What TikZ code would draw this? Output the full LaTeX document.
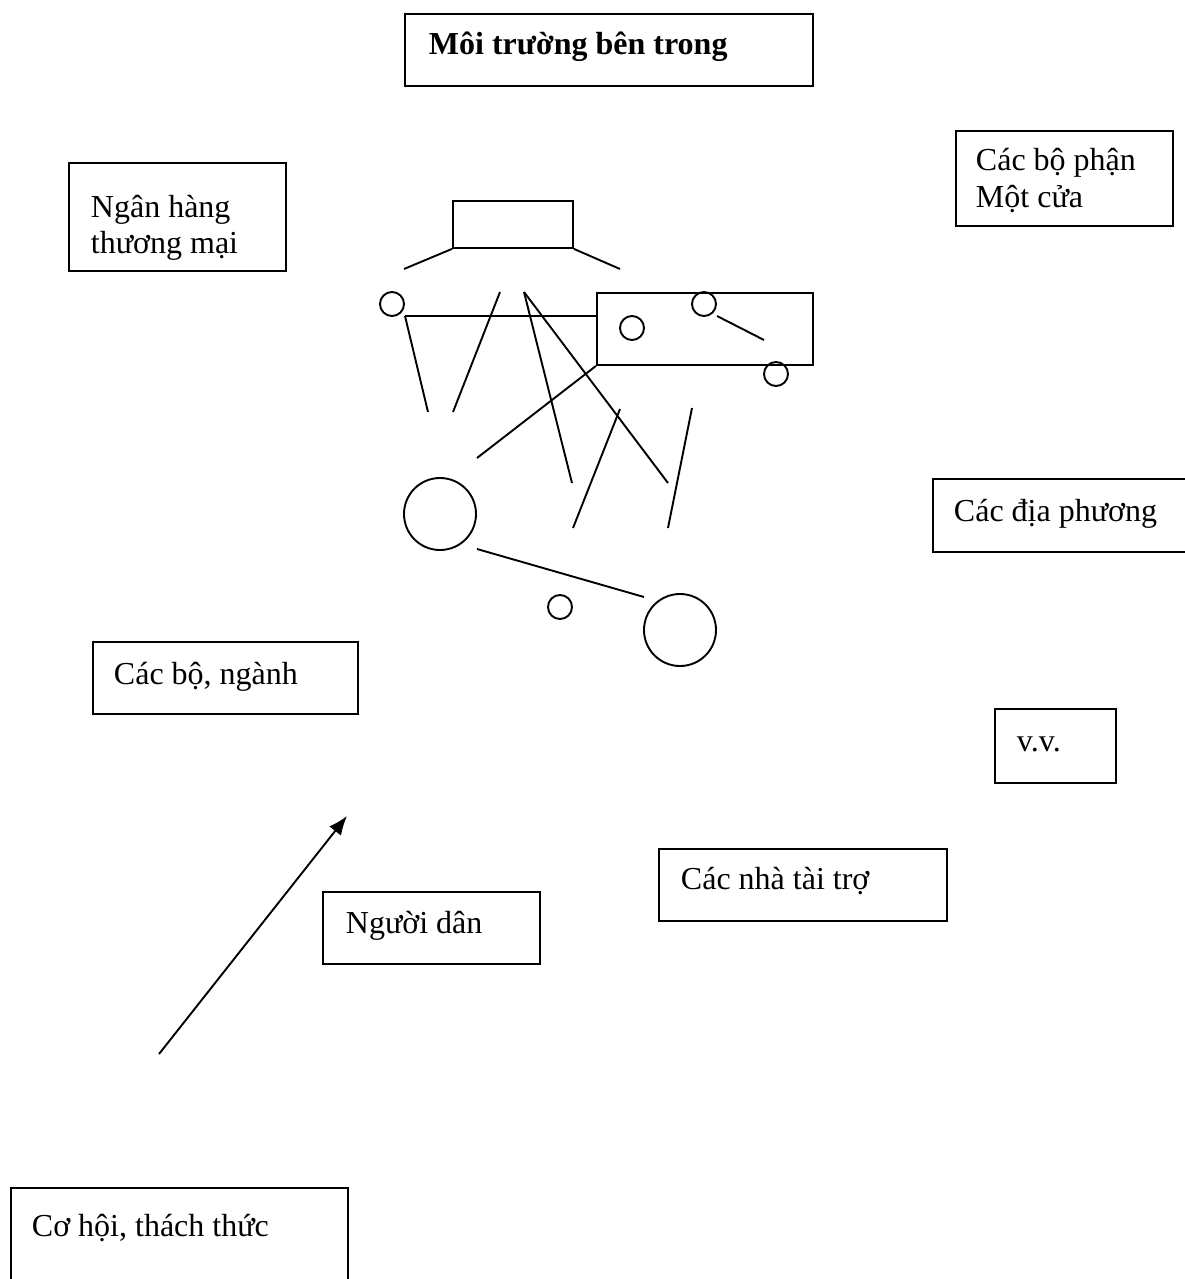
\documentclass[tikz,border=0pt]{standalone}
\usepackage{fontspec}
\setmainfont{Liberation Serif}
\usetikzlibrary{arrows.meta}
\begin{document}
\begin{tikzpicture}[x=1pt,y=-1pt,line width=1.9pt,
  box/.style={draw,rectangle,anchor=north west,inner sep=0pt},
  lbl/.style={anchor=base west,inner sep=0pt,font=\fontsize{32}{37}\selectfont},
  dot/.style={draw,circle,inner sep=0pt,minimum size=24pt},
  ring/.style={draw,circle,inner sep=0pt,minimum size=72pt}]
\useasboundingbox (0,0) rectangle (1185,1279);
\clip (0,0) rectangle (1185,1279);

% labelled boxes
\node[box,minimum width=408pt,minimum height=72pt] (inner) at (404,13) {};
\node[lbl,font=\fontsize{32}{37}\selectfont\bfseries] (innerT) at (428,55) {Môi trường bên trong};

\node[box,minimum width=217pt,minimum height=95pt] (onestop) at (955,130) {};
\node[lbl] (onestopA) at (975,170) {Các bộ phận};
\node[lbl] (onestopB) at (975,207) {Một cửa};

\node[box,minimum width=217pt,minimum height=108pt] (bank) at (68,162) {};
\node[lbl] (bankA) at (90,217) {Ngân hàng};
\node[lbl] (bankB) at (90,253) {thương mại};

\node[box,minimum width=280pt,minimum height=73pt] (local) at (932,478) {};
\node[lbl] (localT) at (953,521) {Các địa phương};

\node[box,minimum width=265pt,minimum height=72pt] (minist) at (92,641) {};
\node[lbl] (ministT) at (113,684) {Các bộ, ngành};

\node[box,minimum width=121pt,minimum height=74pt] (etc) at (994,708) {};
\node[lbl] (etcT) at (1016,751) {v.v.};

\node[box,minimum width=288pt,minimum height=72pt] (donor) at (658,848) {};
\node[lbl] (donorT) at (680,889) {Các nhà tài trợ};

\node[box,minimum width=217pt,minimum height=72pt] (people) at (322,891) {};
\node[lbl] (peopleT) at (345,933) {Người dân};

\node[box,minimum width=337pt,minimum height=110pt] (chance) at (10,1187) {};
\node[lbl] (chanceT) at (31,1236) {Cơ hội, thách thức};

% arrow
\coordinate (arrS) at (159,1054);
\coordinate (arrE) at (347,816);
\draw[-{Latex[length=19pt,width=15pt]}] (arrS) -- (arrE);

% central sketch
\node[box,minimum width=120pt,minimum height=47pt] (top) at (452,200) {};
\node[box,minimum width=216pt,minimum height=72pt] (rect) at (596,292) {};
\node[dot] (d1) at (392,304) {};
\node[dot] (d2) at (632,328) {};
\node[dot] (d3) at (704,304) {};
\node[dot] (d4) at (776,374) {};
\node[dot] (d5) at (560,607) {};
\node[ring] (r1) at (440,514) {};
\node[ring] (r2) at (680,630) {};

\draw (top.south west) -- (404,269);
\draw (top.south east) -- (620,269);
\draw (405,316) -- (rect.west |- 0,316);
\draw (405,316) -- (428,412);
\draw (500,292) -- (453,412);
\draw (524,292) -- (572,483);
\draw (524,292) -- (668,483);
\draw (rect.south west) -- (477,458);
\draw (620,409) -- (573,528);
\draw (692,408) -- (668,528);
\draw (477,549) -- (644,597);
\draw (717,316) -- (764,340);
\end{tikzpicture}
\end{document}
